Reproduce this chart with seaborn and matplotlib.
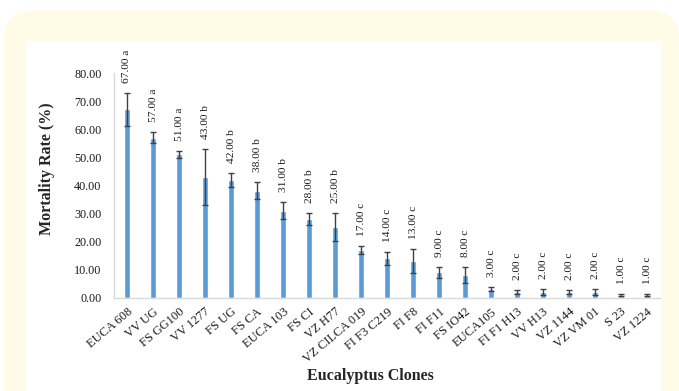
import matplotlib
matplotlib.use("Agg")
import matplotlib.pyplot as plt
from matplotlib.patches import FancyBboxPatch, Rectangle
import seaborn as sns
import pandas as pd

# Mortality rate per eucalyptus clone, with standard error and letter groups
clones = ["EUCA 608", "VV UG", "FS GG100", "VV 1277", "FS UG", "FS CA",
          "EUCA 103", "FS CI", "VZ H77", "VZ CILCA 019", "FI F3 C219",
          "FI F8", "FI F11", "FS IO42", "EUCA105", "FI F1 H13", "VV H13",
          "VZ 1144", "VZ VM 01", "S 23", "VZ 1224"]
mortality = [67, 57, 51, 43, 42, 38, 31, 28, 25, 17, 14, 13, 9, 8,
             3, 2, 2, 2, 2, 1, 1]
errors = [6.0, 2.0, 1.3, 10.0, 2.5, 3.0, 3.0, 2.0, 5.0, 1.5, 2.3, 4.4,
          2.0, 2.7, 0.7, 0.8, 1.2, 0.8, 1.2, 0.4, 0.4]
groups = ["a", "a", "a", "b", "b", "b", "b", "b", "b", "c", "c", "c",
          "c", "c", "c", "c", "c", "c", "c", "c", "c"]
y_ticks = [0, 10, 20, 30, 40, 50, 60, 70, 80]

df = pd.DataFrame({"clone": clones, "mortality": mortality,
                   "err": errors, "group": groups})

sns.set_style("white")
plt.rcParams["font.family"] = ["Liberation Serif", "DejaVu Serif"]

W, H = 679, 391
fig = plt.figure(figsize=(W / 100, H / 100), dpi=100, facecolor="white")

# cream rounded frame and the white panel inside it (pixel coordinates)
frame = FancyBboxPatch((4, -40), 675, 40 + H - 11,
                       boxstyle="round,pad=0,rounding_size=28",
                       transform=None, facecolor="#FFFBE6",
                       edgecolor="none", zorder=-2)
panel = Rectangle((26, -5), 635, 5 + H - 40.5, transform=None,
                  facecolor="white", edgecolor="none", zorder=-1)
fig.patches.extend([frame, panel])

ax = fig.add_axes([114 / W, 1 - 297.5 / H, (660 - 114) / W, (297.5 - 73) / H])
ax.set_facecolor("none")

sns.barplot(data=df, x="clone", y="mortality", color="#5B9BD5",
            width=0.22, saturation=1, errorbar=None, ax=ax, zorder=2)
ax.errorbar(range(len(clones)), df["mortality"], yerr=df["err"],
            fmt="none", ecolor="#404040", elinewidth=1.0, capsize=2.2,
            capthick=1.0, zorder=3)

for i, (v, e, g) in enumerate(zip(mortality, errors, groups)):
    ax.annotate(f"{v:.2f} {g}", xy=(i, v + e), xytext=(0, 10),
                textcoords="offset pixels", rotation=90, ha="center",
                va="bottom", fontsize=8.2, color="#1a1a1a")

ax.set_ylim(0, 80)
ax.set_xlim(-0.5, len(clones) - 0.5)
ax.set_yticks(y_ticks)
ax.set_yticklabels([f"{t:.2f}" for t in y_ticks], fontsize=8.7,
                   color="#1a1a1a")
ax.set_xticks(range(len(clones)))
ax.set_xticklabels(clones, rotation=40, ha="right", rotation_mode="anchor",
                   fontsize=9, color="#1a1a1a")
ax.tick_params(axis="both", length=0)
ax.tick_params(axis="y", pad=9)
ax.tick_params(axis="x", pad=6)

for side in ("top", "right"):
    ax.spines[side].set_visible(False)
for side in ("left", "bottom"):
    ax.spines[side].set_color("#D9D9D9")
    ax.spines[side].set_linewidth(1.0)

ax.set_xlabel("")
ax.set_ylabel("")
fig.text(47 / W, 1 - 169 / H, "Mortality Rate (%)", rotation=90,
         ha="center", va="center", fontsize=11.5, fontweight="bold")
fig.text(370 / W, 1 - 376 / H, "Eucalyptus Clones", ha="center",
         va="center", fontsize=11.5, fontweight="bold")

fig.savefig("out.png", dpi=100, facecolor="white")
